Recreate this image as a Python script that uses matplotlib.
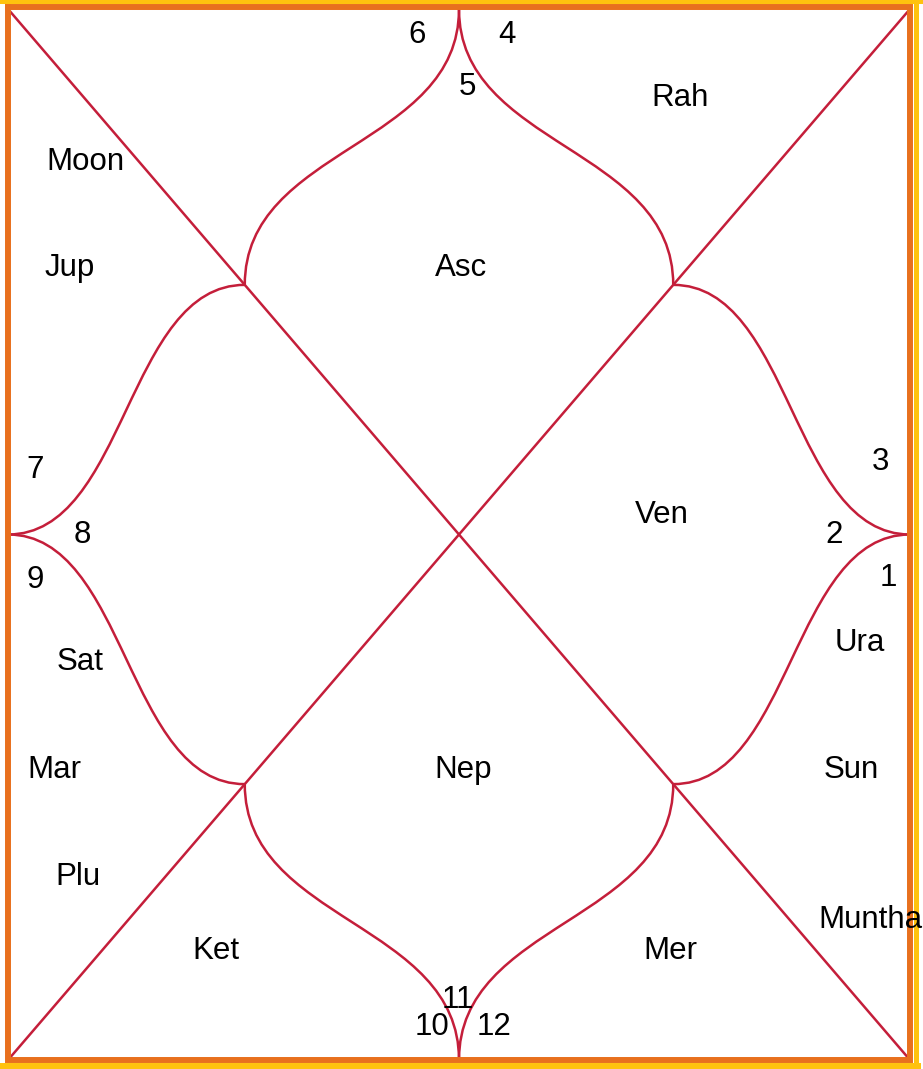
import matplotlib
matplotlib.use("Agg")
import matplotlib.pyplot as plt
from matplotlib.path import Path
from matplotlib.patches import PathPatch

# chart data: sign number per house (house 1 = top diamond, counter-clockwise)
houses = [1, 2, 3, 4, 5, 6, 7, 8, 9, 10, 11, 12]
signs = [5, 6, 7, 8, 9, 10, 11, 12, 1, 2, 3, 4]

planet_names = ['Asc', 'Moon', 'Jup', 'Rah', 'Ven', 'Ura', 'Sun', 'Muntha',
                'Sat', 'Mar', 'Plu', 'Ket', 'Nep', 'Mer']
planet_house = [1, 3, 3, 12, 10, 9, 9, 9, 5, 5, 5, 6, 7, 8]

# layout (pixel positions of the text)
sign_xy = {1: (467, 87), 2: (417, 35), 3: (35, 470), 4: (82, 535),
           5: (35, 580), 6: (432, 1027), 7: (458, 1000), 8: (494, 1027),
           9: (888, 578), 10: (834, 535), 11: (880, 462), 12: (507, 35)}
planet_xy = {'Asc': (461, 268), 'Moon': (85, 162), 'Jup': (70, 268),
             'Rah': (680, 98), 'Ven': (662, 515), 'Ura': (860, 643),
             'Sun': (851, 770), 'Muntha': (870, 920), 'Sat': (80, 662),
             'Mar': (54, 770), 'Plu': (78, 877), 'Ket': (216, 951),
             'Nep': (463, 770), 'Mer': (670, 951)}

W, H = 923, 1069
L, R, T, B = 8, 910, 9, 1060
cx, cy = (L + R) / 2, (T + B) / 2
k = 0.475
line_col = '#c41e3a'
lw = 1.8

fig = plt.figure(figsize=(W / 100, H / 100), dpi=100)
ax = fig.add_axes([0, 0, 1, 1])
ax.set_xlim(0, W)
ax.set_ylim(H, 0)
ax.axis('off')

# diagonals
ax.plot([L, R], [T, B], color=line_col, lw=lw)
ax.plot([L, R], [B, T], color=line_col, lw=lw)

# inner points on the diagonals
hw, hh = (R - L) / 2, (B - T) / 2
pts = {'tl': (cx - k * hw, cy - k * hh), 'tr': (cx + k * hw, cy - k * hh),
       'bl': (cx - k * hw, cy + k * hh), 'br': (cx + k * hw, cy + k * hh)}


def vcurve(p0, p1):
    # s-curve with vertical tangents at both ends
    ym = (p0[1] + p1[1]) / 2
    return [p0, (p0[0], ym), (p1[0], ym), p1]


def hcurve(p0, p1):
    # s-curve with horizontal tangents at both ends
    xm = (p0[0] + p1[0]) / 2
    return [p0, (xm, p0[1]), (xm, p1[1]), p1]


curves = [
    vcurve((cx, T), pts['tl']), vcurve((cx, T), pts['tr']),
    vcurve((cx, B), pts['bl']), vcurve((cx, B), pts['br']),
    hcurve((L, cy), pts['tl']), hcurve((L, cy), pts['bl']),
    hcurve((R, cy), pts['tr']), hcurve((R, cy), pts['br']),
]
codes = [Path.MOVETO, Path.CURVE4, Path.CURVE4, Path.CURVE4]
for c in curves:
    ax.add_patch(PathPatch(Path(c, codes), fill=False, edgecolor=line_col, lw=lw))

# frame: orange inner band, yellow outer band
ax.plot([8, 910, 910, 8, 8], [7, 7, 1060, 1060, 7], color='#e8701e', lw=4.3,
        solid_joinstyle='miter')
ax.plot([0, W], [2, 2], color='#ffc20e', lw=2.9)
ax.plot([0, 918], [1066, 1066], color='#ffc20e', lw=4.3)
ax.plot([915.5, 915.5], [0, 1069], color='#ffc20e', lw=3.6)

font = dict(family=['Liberation Sans', 'DejaVu Sans'], fontsize=22.5,
            color='black', ha='center', va='center')

for h, s in zip(houses, signs):
    x, y = sign_xy[h]
    ax.text(x, y, str(s), **font)

for name, h in zip(planet_names, planet_house):
    x, y = planet_xy[name]
    ax.text(x, y, name, **font)

fig.savefig('out.png', dpi=100)
